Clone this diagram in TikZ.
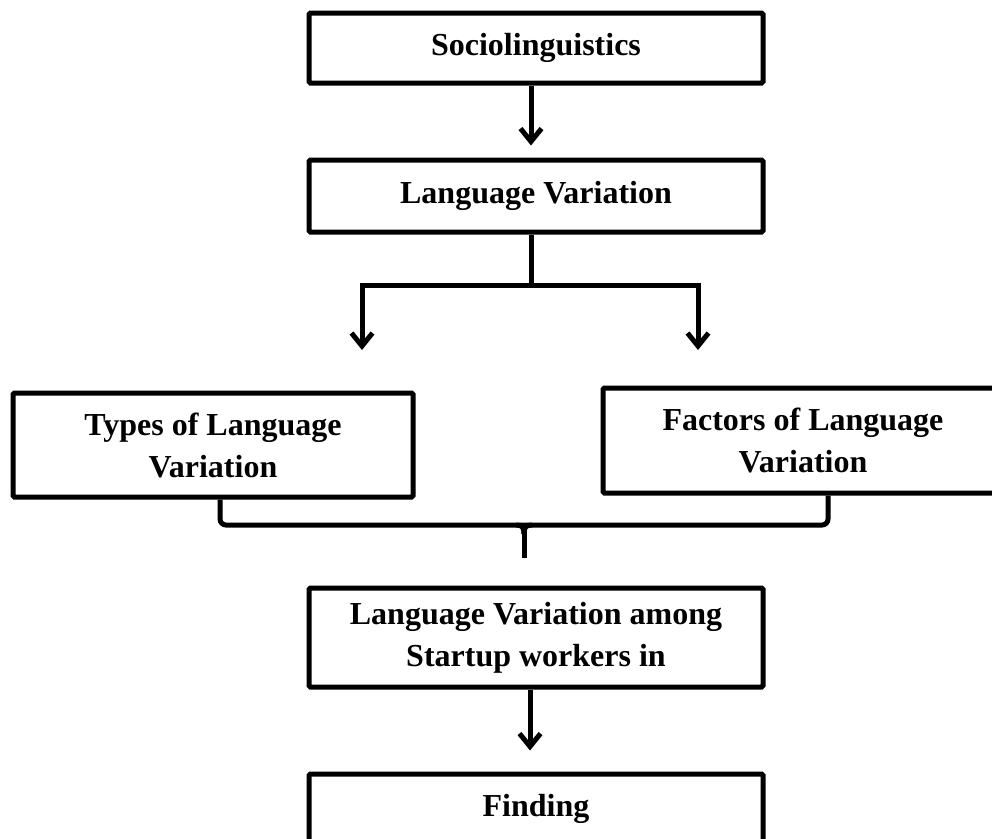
\documentclass[tikz,border=0pt]{standalone}
\usepackage{fontspec}
\setmainfont{Liberation Serif}
\usetikzlibrary{arrows.meta}
\begin{document}
\begin{tikzpicture}[x=1pt,y=-1pt,
  box/.style={draw, line width=5pt, rounded corners=1.5pt, align=center, inner sep=0pt,
    font=\bfseries\fontsize{32}{42}\selectfont},
  conn/.style={line width=5pt},
  arr/.style={conn, -{Straight Barb[length=13pt,width=21pt]}}]
\useasboundingbox (0,0) rectangle (992,838);
\node[box, minimum width=454pt, minimum height=70pt] (soc) at (536,48) {Sociolinguistics};
\node[box, minimum width=454pt, minimum height=72pt] (lv) at (536,196) {Language Variation};
\node[box, minimum width=400pt, minimum height=104pt] (types) at (213,445) {Types of Language\\Variation};
\node[box, minimum width=400pt, minimum height=105pt] (factors) at (803,440.5) {Factors of Language\\Variation};
\node[box, minimum width=454pt, minimum height=99pt] (amg) at (536,637.5) {Language Variation among\\Startup workers in};
\node[box, minimum width=454pt, minimum height=70pt] (fin) at (536,809) {Finding};
% arrows
\draw[arr, shorten >=12pt] ([xshift=-5pt]soc.south) -- ([xshift=-5pt]lv.north);
\coordinate (split) at (531,285);
\coordinate (tl) at (362,350);
\coordinate (tr) at (698,350);
\draw[conn] ([xshift=-5pt]lv.south) -- (split);
\draw[arr] (split) -| (tl);
\draw[arr] (split) -| (tr);
% brace
\coordinate (bm) at (524,525);
\coordinate (bt) at (524,558);
\draw[conn, rounded corners=6pt] ([xshift=7pt]types.south) |- (bm) -| ([xshift=25pt]factors.south);
\draw[conn] (bm) -- (bt);
\draw[conn] (516,525) .. controls (522,525) and (524,527) .. (524,534);
\draw[conn] (532,525) .. controls (526,525) and (524,527) .. (524,534);
\draw[arr, shorten >=21pt] ([xshift=-6pt]amg.south) -- ([xshift=-6pt]fin.north);
\end{tikzpicture}
\end{document}
